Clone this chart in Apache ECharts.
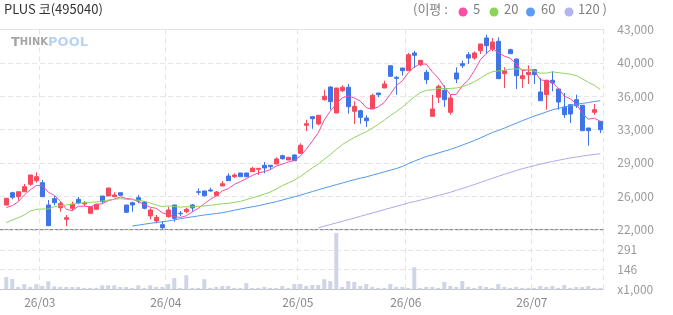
<!DOCTYPE html>
<html><head><meta charset="utf-8">
<script src="https://cdn.jsdelivr.net/npm/echarts@6/dist/echarts.min.js"></script>
<style>html,body{margin:0;padding:0;background:#fff}#c{width:673px;height:315px}</style>
</head><body><div id="c"></div>
<script>
const dates = [
'26/02/20','26/02/23','26/02/24','26/02/25','26/02/26','26/02/27',
'26/03/03','26/03/04','26/03/05','26/03/06','26/03/09','26/03/10','26/03/11','26/03/12','26/03/13','26/03/16','26/03/17','26/03/18','26/03/19','26/03/20','26/03/23','26/03/24','26/03/25','26/03/26','26/03/27','26/03/30','26/03/31',
'26/04/01','26/04/02','26/04/03','26/04/06','26/04/07','26/04/08','26/04/09','26/04/10','26/04/13','26/04/14','26/04/15','26/04/16','26/04/17','26/04/20','26/04/21','26/04/22','26/04/23','26/04/24','26/04/27','26/04/28','26/04/29','26/04/30',
'26/05/04','26/05/06','26/05/07','26/05/08','26/05/11','26/05/12','26/05/13','26/05/14','26/05/15','26/05/18','26/05/19','26/05/20','26/05/21','26/05/22','26/05/26','26/05/27','26/05/28','26/05/29',
'26/06/01','26/06/02','26/06/04','26/06/05','26/06/08','26/06/09','26/06/10','26/06/11','26/06/12','26/06/15','26/06/16','26/06/17','26/06/18','26/06/19','26/06/22','26/06/23','26/06/24','26/06/25','26/06/26','26/06/29','26/06/30',
'26/07/01','26/07/02','26/07/03','26/07/06','26/07/07','26/07/08','26/07/09','26/07/10','26/07/13','26/07/14','26/07/15','26/07/16'];

const opens = [24572,25864,25444,25969,26746,27124,26914,24572,25234,24289,
23071,24226,25171,24678,23701,24121,25518,25518,25444,25864,
24572,24814,25339,24888,23418,22893,22504,23344,24572,23701,
23869,24572,25969,26043,26148,25549,26568,27618,27544,27933,
27933,28069,28321,28741,28741,28878,29749,29298,29823,30001,
32941,33844,33078,35629,36963,34233,36574,36931,34411,34474,
33708,34684,36333,36858,39199,37981,38958,38674,40533,39304,
38506,33886,35881,36616,34306,38433,39409,40354,40008,40774,
42108,40953,41761,38359,40879,39903,37834,38254,38779,36438,
36154,37666,36753,34863,35104,35629,35041,32658,34306,33361];

const closes = [25276,25381,25969,26494,27723,27544,25444,22399,24814,24751,
23239,24646,24783,24783,24394,24646,24919,26358,25623,25591,
23806,24572,24993,24226,24048,23281,22189,24048,23176,23660,
24121,24258,25906,25549,26043,25938,26809,27124,27723,27544,
27544,28426,28426,28458,28594,29403,29434,29581,29224,30841,
33109,33634,33991,35986,35419,36858,36931,34894,34936,33781,
33424,36091,36154,37278,38086,37876,38674,40354,40291,39766,
37729,34653,37036,35629,35808,37803,39199,40008,40533,41478,
41299,41688,37834,38674,40459,38149,38149,38506,38254,35524,
37666,37383,35388,34054,34128,34999,32374,32374,34579,32479];

const lows = [24500,25171,25024,25906,26599,26914,25444,22399,24541,23869,
22368,23943,24646,24468,23701,24121,24751,25518,25381,25591,
23806,23869,24751,24121,23071,22651,22053,23239,22819,23418,
23701,23869,25623,25444,25969,25549,26568,27124,27408,27544,
27544,28069,27723,27901,28248,28878,29329,29298,29224,29928,
32311,32584,32941,35524,34579,34233,36438,34159,33078,33109,
32763,34684,35881,36858,38086,36154,38149,38674,38958,39136,
37278,33886,35283,34863,34054,37383,38958,39378,39829,40428,
40428,40711,37834,36858,40459,36753,36858,37278,37278,35524,
34579,36511,34579,33708,33183,34758,32374,30799,34054,32133];

const highs = [25276,25969,25969,26778,27723,28006,27198,25098,25518,24919,
23523,24919,25413,24993,24394,24646,25518,26358,25906,25864,
24572,24919,25623,24993,24226,23523,22893,24394,24572,23943,
24289,24678,26326,26043,26389,26043,27093,27901,27901,27933,
27933,28594,28426,29088,28741,29581,29854,29581,29900,31051,
33529,33844,33991,36679,37036,36858,37141,37278,35461,34579,
33991,36259,36333,37624,39199,38086,38958,40533,40774,39766,
38779,36154,37204,37141,36154,39031,39724,40638,40711,41478,
42454,42108,42181,39031,40984,39903,38779,39241,38779,37908,
37729,38611,36753,36333,35104,36154,35041,32658,35178,33361];

// volume, in thousands of shares
const volumes = [92,77,19,39,19,39,26,60,24,19,
19,19,19,12,12,12,31,31,31,19,
19,12,31,12,31,19,19,39,84,12,
104,12,12,76,12,19,26,26,12,12,
47,12,12,19,12,12,26,12,40,40,
26,33,33,76,62,415,19,62,55,26,
40,19,12,12,40,19,19,12,164,12,
19,19,12,55,26,19,62,19,12,26,
19,12,40,19,12,19,12,12,12,26,
19,26,12,33,12,19,19,26,12,12];

const ma5 = [24310,24499,24919,25623,26169,26622,26635,25921,25585,24990,
24129,23970,24447,24440,24369,24650,24705,25020,25188,25427,
25259,25190,24917,24638,24329,24224,23747,23558,23348,23271,
23439,23853,24224,24699,25175,25539,26049,26293,26727,27028,
27349,27672,27933,28080,28290,28661,28863,29094,29247,29697,
30438,31278,32160,33512,34428,35178,35837,36018,35808,35480,
34793,34625,34877,35346,36207,37097,37614,38454,39056,39392,
39363,38559,37895,36963,36171,36186,37095,37689,38670,39804,
40503,41001,40566,40195,39991,39361,38653,38787,38703,37716,
37620,37467,36843,36003,35724,35190,34189,33586,33691,33361];

const ma20 = [22714,22998,23239,23523,23943,24121,24153,24153,24394,24499,
24572,24678,24751,24814,24860,24888,24993,25098,25171,25239,
25165,25125,25076,24963,24779,24566,24403,24486,24404,24349,
24393,24374,24430,24468,24551,24615,24710,24748,24853,24951,
25138,25330,25502,25714,25941,26247,26609,26886,27188,27547,
27997,28466,28870,29392,29860,30406,30913,31301,31662,31974,
32268,32651,33037,33478,33953,34376,34838,35377,35930,36377,
36608,36659,36811,36793,36812,36860,36973,37229,37509,37894,
38287,38567,38651,38721,38840,38853,38827,38735,38633,38421,
38417,38554,38472,38393,38309,38169,37827,37446,37148,36698];

const ma60 = [null,null,null,null,null,null,null,null,null,null,
null,null,null,null,null,null,null,null,null,null,
null,22368,22460,22555,22651,22730,22810,22893,23010,23125,
23239,23330,23425,23523,23600,23680,23764,23890,24020,24153,
24270,24385,24499,24640,24780,24919,25090,25260,25430,25600,
25790,25980,26170,26358,26530,26705,26880,27061,27225,27388,
27523,27702,27872,28051,28224,28396,28617,28916,29174,29424,
29666,29833,30037,30218,30408,30627,30865,31093,31341,31606,
31897,32183,32397,32638,32911,33159,33425,33666,33917,34115,
34341,34559,34717,34859,34994,35145,35238,35325,35439,35522];

const ma120 = [null,null,null,null,null,null,null,null,null,null,
null,null,null,null,null,null,null,null,null,null,
null,null,null,null,null,null,null,null,null,null,
null,null,null,null,null,null,null,null,null,null,
null,null,null,null,null,null,null,null,null,null,
null,null,22180,22350,22520,22690,22860,23029,23200,23380,
23560,23733,23910,24085,24260,24436,24610,24783,24930,25080,
25234,25400,25570,25740,25906,26110,26310,26510,26720,26940,
27160,27370,27586,27790,27990,28190,28384,28540,28700,28860,
29010,29140,29270,29390,29508,29610,29710,29800,29880,29950];

const priceTickLabels = ['22,000','26,000','29,000','33,000','36,000','40,000','43,000'];
const volumeTickLabels = ['x1,000','146','291',''];
const maNames = ['5','20','60','120'];
const maColors = ['#f54aa3','#8ed45c','#4f98f0','#aea8ec'];
const legendDotColors = ['#ff4da6','#8cd45a','#5b9cf5','#b3b3ef'];

const FONT = '"Noto Sans CJK KR","Noto Sans",sans-serif';
const isMonthStart = (i) => i > 0 && dates[i].slice(3,5) !== dates[i-1].slice(3,5);
const candleData = opens.map((o, i) => [o, closes[i], lows[i], highs[i]]);

const chart = echarts.init(document.getElementById('c'), null, {renderer: 'canvas'});
const vSplit = {show: true, interval: (i) => isMonthStart(i), lineStyle: {color: '#e4e4e4', type: [5, 4], width: 1}};

const option = {
  animation: false,
  textStyle: {fontFamily: FONT},
  grid: [
    {left: 3.3, width: 600, top: 29.5, height: 200},
    {left: 3.3, width: 600, top: 230, height: 59.5},
    {left: 0, width: 603.3, top: 29.5, height: 200},
    {left: 0, width: 603.3, top: 230, height: 59.5}
  ],
  xAxis: [
    {type: 'category', gridIndex: 0, data: dates, boundaryGap: true,
     axisLine: {show: false}, axisTick: {show: false}, axisLabel: {show: false}, splitLine: vSplit},
    {type: 'category', gridIndex: 1, data: dates, boundaryGap: true,
     axisLine: {show: false}, axisTick: {show: false}, splitLine: vSplit,
     axisLabel: {show: true, interval: (i) => isMonthStart(i), formatter: (v) => v.slice(0,5),
                 color: '#8a8a8a', fontSize: 12, margin: 7, fontFamily: FONT, padding: [0, 5, 0, 0]}},
    {type: 'value', gridIndex: 2, min: 0, max: 1, axisTick: {show: false}, axisLabel: {show: false}, splitLine: {show: false},
     axisLine: {show: true, lineStyle: {color: '#8c8c8c', type: [3, 2], width: 1}}},
    {type: 'value', gridIndex: 3, min: 0, max: 1, axisTick: {show: false}, axisLabel: {show: false}, splitLine: {show: false},
     axisLine: {show: true, lineStyle: {color: '#c4c4c4', width: 1}}},
    {type: 'value', gridIndex: 2, position: 'top', min: 0, max: 1, axisTick: {show: false}, axisLabel: {show: false}, splitLine: {show: false},
     axisLine: {show: true, lineStyle: {color: '#e2e2e2', width: 1}}}
  ],
  yAxis: [
    {type: 'value', gridIndex: 0, min: 22000, max: 43000, show: false, splitLine: {show: false}},
    {type: 'value', gridIndex: 1, min: 0, max: 436.5, show: false, splitLine: {show: false}},
    {type: 'value', gridIndex: 2, position: 'right', min: 22000, max: 43000, interval: 3500,
     axisLine: {show: false}, axisTick: {show: false},
     splitLine: {show: true, lineStyle: {color: '#e6e6e6', type: [5, 3], width: 1}},
     axisLabel: {color: '#9a9a9a', fontSize: 12, margin: 14, fontFamily: FONT,
                 formatter: (v) => priceTickLabels[Math.round((v - 22000) / 3500)]}},
    {type: 'value', gridIndex: 3, position: 'right', min: 0, max: 436.5, interval: 145.5,
     axisLine: {show: false}, axisTick: {show: false},
     splitLine: {show: true, lineStyle: {color: '#e6e6e6', type: [5, 3], width: 1}},
     axisLabel: {color: '#9a9a9a', fontSize: 12, margin: 14, fontFamily: FONT,
                 formatter: (v) => volumeTickLabels[Math.round(v / 145.5)]}}
  ],
  series: [
    {type: 'candlestick', xAxisIndex: 0, yAxisIndex: 0, data: candleData, barWidth: 4, z: 3,
     itemStyle: {color: '#f64a5c', color0: '#3f74e6', borderColor: '#f64a5c', borderColor0: '#3f74e6', borderWidth: 1}},
    {type: 'bar', xAxisIndex: 1, yAxisIndex: 1, data: volumes, barWidth: 4, z: 3,
     itemStyle: {color: '#cfd5e6'}},
    ...[ma5, ma20, ma60, ma120].map((d, k) => ({
      type: 'line', name: maNames[k], xAxisIndex: 0, yAxisIndex: 0, data: d, showSymbol: false, symbol: 'none',
      smooth: false, z: 4, lineStyle: {color: maColors[k], width: 1}, connectNulls: false
    }))
  ],
  graphic: [
    {type: 'text', left: 4, top: 3, style: {text: 'PLUS 코(495040)', fill: '#333', font: '13px ' + FONT}},
    {type: 'text', left: 11, top: 36, style: {
      text: '{a|T}{b|HINK}{c|POOL}', rich: {
        a: {fontSize: 13, fontWeight: 'bold', fill: '#a5a5a5', fontFamily: 'DejaVu Sans'},
        b: {fontSize: 10, fontWeight: 'bold', fill: '#a5a5a5', fontFamily: 'DejaVu Sans'},
        c: {fontSize: 13, fontWeight: 'bold', fill: '#b9d2f2', fontFamily: 'DejaVu Sans'}
      }}},
    {type: 'text', left: 413, top: 3, style: {text: '(이평 :', fill: '#808080', font: '13px ' + FONT}},
    {type: 'circle', shape: {cx: 463, cy: 12, r: 4.5}, style: {fill: legendDotColors[0]}},
    {type: 'text', left: 473, top: 3, style: {text: maNames[0], fill: '#808080', font: '13px ' + FONT}},
    {type: 'circle', shape: {cx: 494, cy: 12, r: 4.5}, style: {fill: legendDotColors[1]}},
    {type: 'text', left: 504, top: 3, style: {text: maNames[1], fill: '#808080', font: '13px ' + FONT}},
    {type: 'circle', shape: {cx: 530.5, cy: 12, r: 4.5}, style: {fill: legendDotColors[2]}},
    {type: 'text', left: 541, top: 3, style: {text: maNames[2], fill: '#808080', font: '13px ' + FONT}},
    {type: 'circle', shape: {cx: 569, cy: 12, r: 4.5}, style: {fill: legendDotColors[3]}},
    {type: 'text', left: 578, top: 3, style: {text: maNames[3] + ' )', fill: '#808080', font: '13px ' + FONT}}
  ]
};
chart.setOption(option);
</script>
</body></html>
